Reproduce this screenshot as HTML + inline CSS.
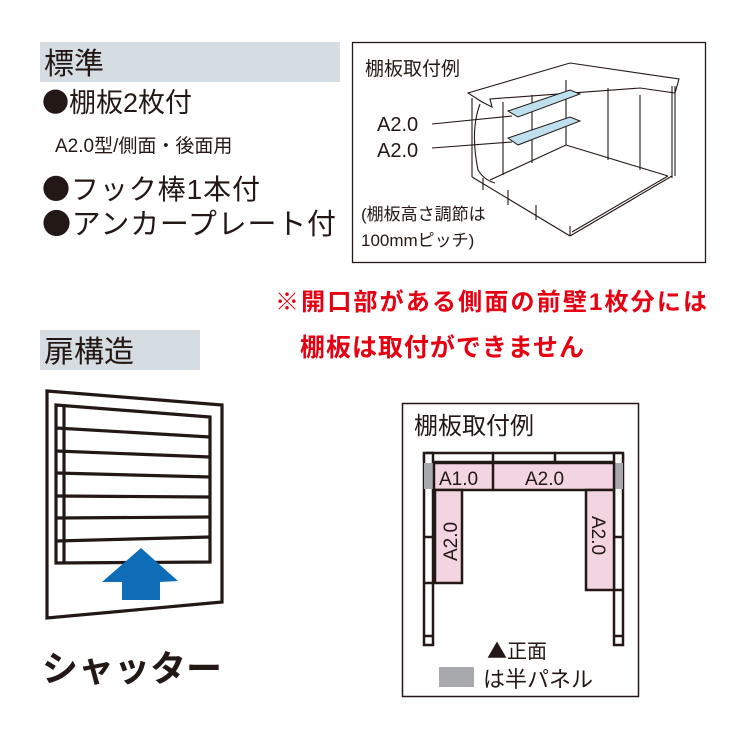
<!DOCTYPE html>
<html><head><meta charset="utf-8"><style>
html,body{margin:0;padding:0;background:#fff}
svg{display:block}
text{font-family:"Liberation Sans","Noto Sans CJK JP",sans-serif;fill:#231815}
.j{font-family:"Noto Sans CJK JP",sans-serif}
</style></head><body>
<svg width="740" height="740" viewBox="0 0 740 740" xmlns="http://www.w3.org/2000/svg">
<rect x="40" y="42" width="300" height="40" fill="#d5dde2"/>
<text x="44" y="74" font-size="30">標準</text>
<text x="42" y="112" font-size="27"><tspan class="j">●</tspan>棚板2枚付</text>
<text x="55" y="152" font-size="19">A2.0型/側面・後面用</text>
<text x="42" y="199" font-size="28" textLength="218"><tspan class="j">●</tspan>フック棒1本付</text>
<text x="42" y="234" font-size="29" textLength="294"><tspan class="j">●</tspan>アンカープレート付</text>

<!-- top right box -->
<rect x="352.5" y="42.5" width="353" height="220" fill="#fff" stroke="#231815" stroke-width="1.3"/>
<text x="365" y="75" font-size="19">棚板取付例</text>
<text x="377" y="131" font-size="20">A2.0</text>
<text x="377" y="157" font-size="20">A2.0</text>
<g fill="none" stroke="#231815" stroke-width="1.1">
<line x1="432" y1="124" x2="512" y2="116"/>
<line x1="432" y1="148" x2="512" y2="142"/>
<polygon points="468,93 570,63 679,79 675,93 640,88 490,99 492,107 482,102" fill="#fff"/>
<path d="M480,104 Q470,130 478,170 Q484,180 495,183"/>
<line x1="472" y1="98" x2="472" y2="177"/>
<line x1="472" y1="177" x2="570" y2="236"/>
<line x1="570" y1="236" x2="570" y2="226"/>
<line x1="570" y1="236" x2="672" y2="176"/>
<line x1="572" y1="232" x2="668" y2="176"/>
<line x1="490" y1="180" x2="566" y2="145"/>
<line x1="566" y1="145" x2="668" y2="176"/>
<line x1="503" y1="102" x2="503" y2="175"/>
<line x1="532" y1="95" x2="532" y2="163"/>
<line x1="566" y1="80" x2="566" y2="145"/>
<line x1="608" y1="88" x2="608" y2="160"/>
<line x1="640" y1="95" x2="640" y2="170"/>
<line x1="672" y1="86" x2="672" y2="178"/>
<line x1="675" y1="86" x2="675" y2="176"/>
<line x1="483" y1="178" x2="483" y2="190"/>
<line x1="508" y1="190" x2="508" y2="205"/>
<line x1="536" y1="205" x2="536" y2="220"/>
</g>
<polygon points="508,111 570,90 580,94 518,117" fill="#bfe0ee" stroke="#231815" stroke-width="1"/>
<polygon points="508,138 570,117 580,121 518,145" fill="#bfe0ee" stroke="#231815" stroke-width="1"/>
<text x="361" y="220" font-size="17">(棚板高さ調節は</text>
<text x="361" y="246" font-size="17">100mmピッチ)</text>

<text x="275" y="310" font-size="24" style="fill:#e60012;font-weight:bold" textLength="432">※開口部がある側面の前壁1枚分には</text>
<text x="300" y="356" font-size="25" style="fill:#e60012;font-weight:bold" textLength="284">棚板は取付ができません</text>

<rect x="40" y="330" width="160" height="40" fill="#d5dde2"/>
<text x="44" y="362" font-size="30">扉構造</text>

<!-- shutter -->
<g fill="none" stroke="#231815" stroke-width="3.2">
<polygon points="47,391 222,405 222,602 47,618"/>
<polygon points="56,405 210,417 210,562 56,563"/>
<line x1="64" y1="405" x2="64" y2="563"/>
<line x1="56" y1="428" x2="210" y2="437"/>
<line x1="56" y1="451" x2="210" y2="457"/>
<line x1="56" y1="473" x2="210" y2="477"/>
<line x1="56" y1="496" x2="210" y2="497"/>
<line x1="56" y1="518" x2="210" y2="517"/>
<line x1="56" y1="541" x2="210" y2="537"/>
</g>
<polygon points="141,548 178,581 160,582 160,600 122,600 122,582 102,582" fill="#0f6cb6"/>
<text x="42" y="681" font-size="36" font-weight="bold" textLength="180">シャッター</text>

<!-- bottom right box -->
<rect x="402.5" y="403.5" width="236" height="293" fill="#fff" stroke="#231815" stroke-width="1.5"/>
<text x="414" y="434" font-size="24">棚板取付例</text>
<g stroke="#231815" stroke-width="2.5" fill="#fff">
<rect x="424" y="453" width="199" height="9" rx="2"/>
<rect x="424" y="453" width="9" height="192"/>
<rect x="614" y="453" width="9" height="192"/>
<line x1="493" y1="453" x2="493" y2="462"/>
<line x1="555" y1="453" x2="555" y2="462"/>
</g>
<rect x="424" y="463" width="9" height="26" fill="#a7a9ac"/>
<rect x="615" y="463" width="8" height="26" fill="#a7a9ac"/>
<g stroke="#231815" stroke-width="2.5">
<rect x="434" y="463" width="180" height="27" fill="#f3d5e1"/>
<line x1="493" y1="463" x2="493" y2="490"/>
<rect x="435" y="490" width="27" height="93" fill="#f3d5e1"/>
<rect x="586" y="490" width="28" height="100" fill="#f3d5e1"/>
<line x1="424" y1="537" x2="433" y2="537"/>
<line x1="424" y1="583" x2="433" y2="583"/>
<line x1="424" y1="636" x2="433" y2="636"/>
<line x1="614" y1="537" x2="623" y2="537"/>
<line x1="614" y1="590" x2="623" y2="590"/>
<line x1="614" y1="636" x2="623" y2="636"/>
</g>
<text x="439" y="485" font-size="19">A1.0</text>
<text x="525" y="485" font-size="19">A2.0</text>
<text transform="translate(457,561) rotate(-90)" font-size="19">A2.0</text>
<text transform="translate(592,516) rotate(90)" font-size="19">A2.0</text>
<text x="487" y="658" font-size="20"><tspan class="j">▲</tspan>正面</text>
<rect x="439" y="667" width="35" height="20" fill="#a7a9ac"/>
<text x="483" y="687" font-size="22">は半パネル</text>
</svg>
</body></html>
